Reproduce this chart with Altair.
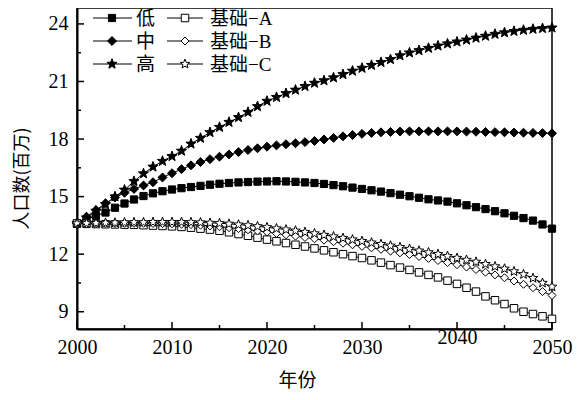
import math
import altair as alt
import pandas as pd

# ---------------- data ----------------
years = list(range(2000, 2051))

low = [13.6, 13.8, 14.0, 14.17, 14.42, 14.64, 14.85, 15.03, 15.17, 15.28,
       15.37, 15.44, 15.5, 15.56, 15.62, 15.67, 15.71, 15.74, 15.76, 15.78,
       15.79, 15.8, 15.79, 15.77, 15.74, 15.71, 15.66, 15.6, 15.54, 15.47,
       15.4, 15.33, 15.26, 15.18, 15.1, 15.02, 14.94, 14.86, 14.8, 14.74,
       14.65, 14.55, 14.45, 14.35, 14.24, 14.13, 14.0, 13.88, 13.75, 13.55,
       13.33]

mid = [13.6, 13.95, 14.3, 14.65, 14.95, 15.2, 15.4, 15.58, 15.75, 16.0,
       16.22, 16.43, 16.63, 16.8, 16.95, 17.08, 17.2, 17.32, 17.43, 17.52,
       17.6, 17.67, 17.73, 17.78, 17.84, 17.9, 17.98, 18.06, 18.14, 18.21,
       18.27, 18.32, 18.35, 18.37, 18.39, 18.4, 18.4, 18.4, 18.4, 18.4,
       18.4, 18.39, 18.38, 18.37, 18.36, 18.35, 18.34, 18.33, 18.32, 18.31,
       18.3]

high = [13.6, 13.9, 14.25, 14.6, 15.0, 15.35, 15.8, 16.2, 16.55, 16.85,
        17.1, 17.38, 17.75, 18.05, 18.35, 18.62, 18.88, 19.13, 19.4, 19.7,
        19.98, 20.18, 20.38, 20.56, 20.75, 20.92, 21.05, 21.2, 21.37, 21.55,
        21.7, 21.85, 22.0, 22.15, 22.35, 22.5, 22.62, 22.74, 22.86, 22.97,
        23.07, 23.17, 23.27, 23.37, 23.47, 23.55, 23.62, 23.68, 23.73, 23.77,
        23.8]

base_a = [13.6, 13.58, 13.57, 13.56, 13.55, 13.54, 13.53, 13.51, 13.49, 13.47,
          13.45, 13.42, 13.38, 13.33, 13.28, 13.22, 13.14, 13.05, 12.96, 12.86,
          12.76, 12.67, 12.58, 12.49, 12.4, 12.3, 12.2, 12.1, 12.0, 11.9,
          11.8, 11.68, 11.56, 11.43, 11.3, 11.18, 11.05, 10.92, 10.79, 10.62,
          10.45, 10.25, 10.05, 9.8, 9.6, 9.4, 9.18, 9.0, 8.88, 8.76,
          8.63]

base_b = [13.6, 13.6, 13.6, 13.61, 13.61, 13.61, 13.61, 13.61, 13.6, 13.59,
          13.58, 13.56, 13.54, 13.51, 13.47, 13.43, 13.38, 13.33, 13.27, 13.21,
          13.15, 13.08, 13.01, 12.94, 12.87, 12.8, 12.73, 12.65, 12.57, 12.49,
          12.41, 12.33, 12.25, 12.16, 12.07, 11.98, 11.88, 11.78, 11.67, 11.56,
          11.45, 11.33, 11.2, 11.06, 10.92, 10.77, 10.6, 10.43, 10.25, 10.05,
          9.85]

base_c = [13.6, 13.61, 13.62, 13.63, 13.64, 13.65, 13.66, 13.66, 13.67, 13.67,
          13.67, 13.67, 13.66, 13.65, 13.63, 13.61, 13.58, 13.54, 13.5, 13.45,
          13.4, 13.34, 13.28, 13.22, 13.15, 13.08, 13.0, 12.92, 12.84, 12.76,
          12.68, 12.6, 12.52, 12.44, 12.36, 12.27, 12.18, 12.09, 12.0, 11.9,
          11.8, 11.7, 11.6, 11.48, 11.36, 11.24, 11.1, 10.95, 10.75, 10.5,
          10.3]

series_names = ["低", "中", "高", "基础−A", "基础−B", "基础−C"]
series_values = [low, mid, high, base_a, base_b, base_c]

x_major = [2000, 2010, 2020, 2030, 2040, 2050]
x_minor = [2005, 2015, 2025, 2035, 2045]
y_major = [9, 12, 15, 18, 21, 24]
y_minor = [10.5, 13.5, 16.5, 19.5, 22.5]

# ---------------- styling ----------------
W, H = 475, 321
SERIF = "'Liberation Serif', 'Noto Sans CJK SC'"
CJK = "'Noto Sans CJK SC'"


def star_path(inner=0.42):
    pts = []
    for k in range(10):
        r = 1.0 if k % 2 == 0 else inner
        a = -math.pi / 2 + k * math.pi / 5
        pts.append(f"{r * math.cos(a):.3f},{r * math.sin(a):.3f}")
    return "M" + "L".join(pts) + "Z"


STAR = star_path()
shapes = ["square", "diamond", STAR, "square", "diamond", STAR]
fills = ["black", "black", "black", "white", "white", "white"]
sizes = [52, 80, 115, 56, 64, 100]

rows = []
for name, vals in zip(series_names, series_values):
    for yr, v in zip(years, vals):
        rows.append({"year": yr, "value": v, "series": name})
df = pd.DataFrame(rows)

x_scale = alt.Scale(domain=[2000, 2050], nice=False, zero=False)
y_scale = alt.Scale(domain=[8.1, 24.83], nice=False, zero=False)

x_enc = alt.X(
    "year:Q", scale=x_scale,
    axis=alt.Axis(
        values=x_major, format="d", title="年份", grid=False, tickSize=0,
        labelFlush=False,
        labelFont=SERIF, labelFontSize=20, labelColor="black", labelPadding=8,
        labelBaseline={"condition": {"test": "datum.value == 2040", "value": "middle"}, "value": "top"},
        domainColor="black", domainWidth=2,
        titleFont=CJK, titleFontSize=19, titleFontWeight="normal", titleColor="black",
        titleX=220, titleY=51, titleAlign="center", titleBaseline="middle",
    ),
)
y_enc = alt.Y(
    "value:Q", scale=y_scale,
    axis=alt.Axis(
        values=y_major, title="人口数(百万)", grid=False, tickSize=0,
        labelFlush=False,
        labelFont=SERIF, labelFontSize=20, labelColor="black", labelPadding=9,
        domainColor="black", domainWidth=2,
        titleFont=CJK, titleFontSize=18, titleFontWeight="normal", titleColor="black",
        titleX=-55, titleY=170, titleAngle=270, titleAlign="center", titleBaseline="middle",
    ),
)

base = alt.Chart(df)

lines = base.mark_line(color="black", strokeWidth=1).encode(
    x=x_enc, y=y_enc, detail="series:N"
)

point_layers = []
for name, shp, fl, sz in zip(series_names, shapes, fills, sizes):
    point_layers.append(
        base.transform_filter(alt.datum.series == name)
        .mark_point(shape=shp, fill=fl, filled=True, stroke="black",
                    strokeWidth=1, size=sz, opacity=1)
        .encode(x=alt.X("year:Q", scale=x_scale), y=alt.Y("value:Q", scale=y_scale))
    )

# inward-pointing axis ticks
xt_major = alt.Chart(pd.DataFrame({"year": x_major})).mark_rule(color="black", strokeWidth=1.5).encode(
    x=alt.X("year:Q", scale=x_scale), y=alt.value(H), y2=alt.value(H - 7))
xt_minor = alt.Chart(pd.DataFrame({"year": x_minor})).mark_rule(color="black", strokeWidth=1.5).encode(
    x=alt.X("year:Q", scale=x_scale), y=alt.value(H), y2=alt.value(H - 4))
yt_major = alt.Chart(pd.DataFrame({"value": y_major})).mark_rule(color="black", strokeWidth=1.5).encode(
    y=alt.Y("value:Q", scale=y_scale), x=alt.value(0), x2=alt.value(7))
yt_minor = alt.Chart(pd.DataFrame({"value": y_minor})).mark_rule(color="black", strokeWidth=1.5).encode(
    y=alt.Y("value:Q", scale=y_scale), x=alt.value(0), x2=alt.value(4))

# legend (two columns, three rows)
one = pd.DataFrame({"a": [0]})
leg_layers = []
col_geom = [(16, 55, 35, 59), (90, 126, 108, 133)]
row_y = [10, 33, 56]
leg_order = [0, 3, 1, 4, 2, 5]
for pos, idx in enumerate(leg_order):
    r, c = pos // 2, pos % 2
    x0, x1, xm, xt = col_geom[c]
    yy = row_y[r]
    leg_layers.append(alt.Chart(one).mark_rule(color="black", strokeWidth=1).encode(
        x=alt.value(x0), x2=alt.value(x1), y=alt.value(yy)))
    leg_layers.append(alt.Chart(one).mark_point(
        shape=shapes[idx], fill=fills[idx], filled=True, stroke="black",
        strokeWidth=1, size=sizes[idx], opacity=1).encode(
        x=alt.value(xm), y=alt.value(yy)))
    leg_layers.append(alt.Chart(one).mark_text(
        align="left", baseline="middle", font=SERIF, fontSize=19, color="black").encode(
        x=alt.value(xt), y=alt.value(yy + 1), text=alt.value(series_names[idx])))

chart = alt.layer(
    lines, *point_layers, xt_major, xt_minor, yt_major, yt_minor, *leg_layers
).properties(
    width=W, height=H,
    autosize=alt.AutoSizeParams(type="none"),
    padding={"left": 69, "top": 0, "right": 26, "bottom": 63},
    background="white",
).configure_view(
    stroke="black", strokeWidth=1.5
)

chart.save("out.html", embed_options={"renderer": "svg", "actions": False})
